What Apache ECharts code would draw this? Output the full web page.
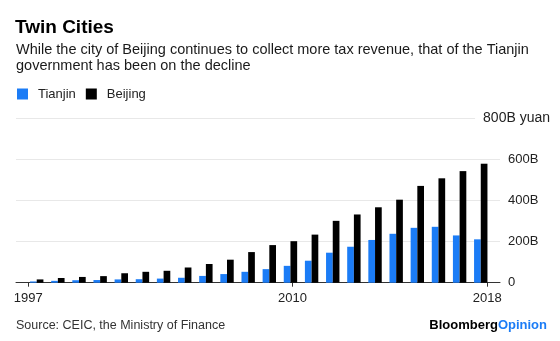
<!DOCTYPE html>
<html>
<head>
<meta charset="utf-8">
<script src="https://cdn.jsdelivr.net/npm/echarts@6/dist/echarts.min.js"></script>
<style>
  html, body { margin: 0; padding: 0; background: #fff; }
  #chart { width: 560px; height: 341px; }
</style>
</head>
<body>
<div id="chart"></div>
<script>
// ---- data ----
const years = [1997, 1998, 1999, 2000, 2001, 2002, 2003, 2004, 2005, 2006, 2007,
               2008, 2009, 2010, 2011, 2012, 2013, 2014, 2015, 2016, 2017, 2018];
const tianjin = [6, 9, 12, 13, 16, 17, 20, 24, 33, 42, 53,
                 66, 82, 107, 146, 175, 208, 238, 267, 272, 230, 211];
const beijing = [16, 23, 28, 32, 46, 53, 58, 74, 91, 112, 149,
                 183, 202, 234, 301, 332, 367, 404, 471, 508, 543, 579];
const xTickLabels = ['1997', '2010', '2018'];
const yTickValues = [0, 200, 400, 600, 800];
const yTickLabels = ['0', '200B', '400B', '600B', '800B yuan'];
const seriesNames = ['Tianjin', 'Beijing'];

// ---- styling / layout ----
const FONT = '"Liberation Sans", Arial, sans-serif';
const BLUE = '#1b7cf6';
// positions of the x-axis tick labels along the year scale (Bloomberg style: first/last at edges)
const xTickPos = [1996.6, 2009.1, 2018.31];

function nearestIdx(arr, v) {
  let best = 0;
  for (let i = 1; i < arr.length; i++) if (Math.abs(arr[i] - v) < Math.abs(arr[best] - v)) best = i;
  return best;
}

const chart = echarts.init(document.getElementById('chart'), null, { renderer: 'canvas' });

const option = {
  animation: false,
  backgroundColor: '#fff',
  textStyle: { fontFamily: FONT },
  title: [
    {
      text: 'Twin Cities', left: 15, top: 18, padding: 0,
      textStyle: { fontFamily: FONT, fontSize: 19, fontWeight: 'bold', color: '#000' }
    },
    {
      text: 'While the city of Beijing continues to collect more tax revenue, that of the Tianjin\ngovernment has been on the decline',
      left: 16, top: 41.5, padding: 0,
      textStyle: { fontFamily: FONT, fontSize: 14.5, fontWeight: 'normal', color: '#1a1a1a', lineHeight: 16 }
    },
    {
      text: 'Source: CEIC, the Ministry of Finance', left: 16, top: 319, padding: 0,
      textStyle: { fontFamily: FONT, fontSize: 12.5, fontWeight: 'normal', color: '#333' }
    },
    {
      text: '{b|Bloomberg}{o|Opinion}', right: 13, top: 319, padding: 0,
      textStyle: {
        rich: {
          b: { fontFamily: FONT, fontSize: 13, fontWeight: 'bold', color: '#000' },
          o: { fontFamily: FONT, fontSize: 13, fontWeight: 'bold', color: BLUE }
        }
      }
    }
  ],
  legend: {
    left: 17, top: 87.5, padding: 0,
    itemWidth: 11, itemHeight: 11, itemGap: 10,
    icon: 'rect',
    data: seriesNames,
    textStyle: { fontFamily: FONT, fontSize: 13, color: '#222', padding: [0, 0, 0, 5] }
  },
  grid: { left: 16, right: 60, top: 118.3, bottom: 58.3, containLabel: false },
  xAxis: {
    type: 'value',
    min: 1996.02, max: 2018.91,
    splitLine: { show: false },
    axisLine: { show: true, lineStyle: { color: '#333', width: 1 } },
    axisTick: { show: true, length: 4, lineStyle: { color: '#333' }, customValues: xTickPos },
    axisLabel: {
      show: true, margin: 9, customValues: xTickPos,
      fontFamily: FONT, fontSize: 13, color: '#222',
      formatter: (v) => xTickLabels[nearestIdx(xTickPos, v)]
    }
  },
  yAxis: [
    {
      type: 'value', position: 'right',
      min: 0, max: 800, interval: 200,
      axisLine: { show: false }, axisTick: { show: false },
      splitLine: { show: true, lineStyle: { color: '#e8e8e8', width: 1 } },
      axisLabel: {
        margin: 8, fontFamily: FONT, fontSize: 13, color: '#222',
        formatter: (v) => (v === 800 ? '' : yTickLabels[yTickValues.indexOf(v)])
      }
    },
    {
      type: 'value', position: 'right',
      min: 0, max: 800, interval: 200,
      axisLine: { show: false }, axisTick: { show: false },
      splitLine: { show: false },
      axisLabel: {
        margin: 50, align: 'right', fontFamily: FONT, fontSize: 14, color: '#222',
        backgroundColor: '#fff', padding: [2, 0, 2, 8],
        formatter: (v) => (v === 800 ? yTickLabels[yTickValues.indexOf(v)] : '')
      }
    }
  ],
  series: [
    {
      name: seriesNames[0], type: 'bar', barWidth: 6.7, barGap: '0%',
      itemStyle: { color: BLUE },
      data: years.map((y, i) => [y, tianjin[i]])
    },
    {
      name: seriesNames[1], type: 'bar', barWidth: 6.7, barGap: '0%',
      itemStyle: { color: '#000' },
      data: years.map((y, i) => [y, beijing[i]])
    }
  ]
};
chart.setOption(option);
</script>
</body>
</html>
